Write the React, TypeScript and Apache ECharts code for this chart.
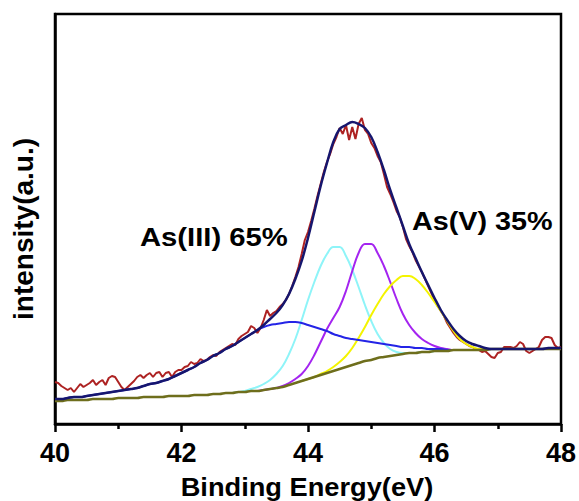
import React, { useEffect, useRef } from "react";
import * as echarts from "echarts";

// ---- Data (intensity in arbitrary units) ----
// Raw spectrum, sampled every 0.05 eV from 40.00 to 48.00 eV
const RAW_START = 40;
const RAW_STEP = 0.05;
const rawCounts = [
  42, 41, 38, 36, 34, 36, 32, 36, 40, 37, 39, 41, 44, 39, 42, 44, 39, 46, 48, 47,
  42, 37, 34, 37, 40, 43, 47, 49, 46, 49, 51, 47, 51, 52, 47, 51, 52, 47, 52, 54,
  54, 57, 58, 62, 60, 61, 65, 63, 64, 67, 69, 68, 72, 74, 76, 78, 80, 79, 85, 88,
  90, 92, 98, 96, 91, 96, 104, 114, 108, 111, 113, 117, 120, 124, 130, 138,
  147, 157, 170, 184, 192, 203, 215, 228, 240, 252, 262, 270, 280, 287, 296, 290,
  299, 284, 297, 285, 300, 306, 294, 290, 281, 276, 268, 262, 250, 237, 230, 222,
  213, 207, 197, 185, 178, 172, 164, 158, 152, 145, 138, 131, 124, 118, 113, 108,
  101, 96, 91, 87, 84, 82, 80, 78, 77, 75,
  74, 72, 73, 70, 67, 66, 71, 72, 77, 77, 77, 76, 78, 82, 80, 73, 71, 73, 75, 77,
  84, 87, 87, 86, 79, 76, 77,
];

// Fitted curves, sampled every 0.1 eV
const FIT_START = 40;
const FIT_STEP = 0.1;
const envelope = [
  25, 25, 26, 27, 27, 28, 29, 30, 31, 32,
  33, 34, 35, 36, 38, 40, 41, 43, 45, 48,
  51, 54, 57, 61, 64, 68, 71, 75, 78, 82,
  86, 90, 94, 99, 105, 111, 119, 130, 145, 163,
  186, 212, 238, 261, 282, 295, 299, 302, 300, 296,
  287, 272, 254, 234, 216, 198, 180, 166, 152, 139,
  126, 114, 104, 95, 88, 83, 80, 78, 76, 75,
  75, 75, 75, 75, 75, 75, 75, 75, 76, 76, 76,
];
const background = [
  23, 23, 24, 24, 24, 24, 25, 25, 25, 25,
  26, 26, 26, 26, 27, 27, 27, 27, 28, 28,
  28, 28, 29, 29, 29, 30, 30, 31, 31, 32,
  32, 33, 33, 34, 35, 36, 37, 39, 41, 43,
  45, 47, 49, 51, 53, 55, 57, 59, 61, 63,
  64, 66, 67, 68, 69, 70, 71, 71, 72, 72,
  73, 73, 73, 74, 74, 74, 74, 74, 74, 75,
  75, 75, 75, 75, 75, 75, 75, 75, 75, 75, 75,
];
// As(III) broad component (blue), 40.0 - 48.0 eV
const blueComp = [
  25, 25, 26, 27, 27, 28, 29, 30, 31, 32,
  33, 34, 35, 36, 38, 40, 41, 43, 45, 48,
  51, 54, 57, 61, 64, 68, 71, 75, 78, 82,
  86, 90, 94, 97, 99, 100, 101, 102, 102, 101,
  99, 97, 95, 93, 90, 88, 86, 85, 84, 83,
  82, 81, 80, 79, 78, 77, 77, 76, 76, 75,
  75, 75, 74, 74, 74, 74, 74, 74, 74, 75,
  75, 75, 75, 75, 75, 75, 75, 75, 75, 75, 75,
];
// As(III) component (cyan), from 42.8 eV
const CYAN_START = 42.8;
const cyanComp = [
  31, 32, 33, 35, 37, 40, 44, 50, 58, 70, 85, 104,
  124, 142, 158, 170, 177, 177, 168, 154, 137, 119,
  103, 90, 81, 75, 72, 71, 71, 71, 72, 72, 73,
];
// As(V) component (violet), from 43.2 eV
const VIOLET_START = 43.2;
const violetComp = [
  33, 34, 35, 36, 38, 41, 45, 50,
  58, 69, 82, 95, 106, 117, 133, 153, 171, 180,
  180, 171, 158, 142, 125, 110, 99, 91, 85, 81,
  78, 76, 75, 74, 74, 74, 74,
];
// As(V) component (yellow), from 43.9 eV
const YELLOW_START = 43.9;
const yellowComp = [
  43, 45, 47, 50, 53, 57, 62, 68, 76, 86, 97,
  109, 120, 130, 138, 144, 148, 148, 145, 139, 131,
  122, 113, 103, 93, 85, 80, 77, 75, 75, 75, 75,
];

const xTicks = [40, 42, 44, 46, 48];
const labelIII = "As(III) 65%";
const labelV = "As(V) 35%";
const yTitle = "intensity(a.u.)";
const xTitle = "Binding Energy(eV)";

const toPairs = (start: number, step: number, ys: number[]) =>
  ys.map((y, i) => [+(start + i * step).toFixed(2), y]);

const FONT = "'Liberation Sans', Arial, Helvetica, sans-serif";

export default function App() {
  const ref = useRef<HTMLDivElement>(null);
  useEffect(() => {
    if (!ref.current) return;
    const chart = echarts.init(ref.current, null, { renderer: "svg" });
    const lineSeries = (
      name: string,
      data: number[][],
      color: string,
      width: number,
      z: number,
      smooth: boolean | number
    ) => ({
      name,
      type: "line",
      data,
      showSymbol: false,
      symbol: "none",
      smooth,
      z,
      lineStyle: { color, width },
    });
    chart.setOption({
      animation: false,
      backgroundColor: "#ffffff",
      grid: {
        left: 55,
        right: 18,
        top: 14,
        bottom: 77,
        show: true,
        borderColor: "#000",
        borderWidth: 2.5,
        backgroundColor: "transparent",
        outerBoundsMode: "none",
        containLabel: false,
      },
      xAxis: {
        type: "value",
        min: xTicks[0],
        max: xTicks[xTicks.length - 1],
        interval: 2,
        axisLine: { show: true, lineStyle: { color: "#000", width: 2.5 } },
        axisTick: {
          show: true,
          inside: false,
          length: 8,
          lineStyle: { color: "#000", width: 2.5 },
        },
        minorTick: {
          show: true,
          splitNumber: 2,
          length: 5,
          lineStyle: { color: "#000", width: 2.5 },
        },
        axisLabel: {
          fontSize: 27,
          fontWeight: "bold",
          color: "#000",
          fontFamily: FONT,
          margin: 15,
        },
        splitLine: { show: false },
      },
      yAxis: {
        type: "value",
        min: 0,
        max: 410,
        axisLine: { show: true, lineStyle: { color: "#000", width: 2.5 } },
        axisTick: { show: false },
        axisLabel: { show: false },
        splitLine: { show: false },
      },
      graphic: [
        {
          type: "text",
          x: 307,
          y: 487,
          scaleX: 1.09,
          z: 100,
          style: {
            text: xTitle,
            fill: "#000",
            fontSize: 25,
            fontWeight: "bold",
            fontFamily: FONT,
            align: "center",
            verticalAlign: "middle",
          },
        },
        {
          type: "text",
          x: 23,
          y: 229,
          rotation: Math.PI / 2,
          z: 100,
          style: {
            text: yTitle,
            fill: "#000",
            fontSize: 28,
            fontWeight: "bold",
            fontFamily: FONT,
            align: "center",
            verticalAlign: "middle",
          },
        },
        {
          type: "text",
          x: 140,
          y: 237,
          scaleX: 1.17,
          z: 100,
          style: {
            text: labelIII,
            fill: "#000",
            fontSize: 25,
            fontWeight: "bold",
            fontFamily: FONT,
            align: "left",
            verticalAlign: "middle",
          },
        },
        {
          type: "text",
          x: 412,
          y: 222,
          scaleX: 1.15,
          z: 100,
          style: {
            text: labelV,
            fill: "#000",
            fontSize: 25,
            fontWeight: "bold",
            fontFamily: FONT,
            align: "left",
            verticalAlign: "middle",
          },
        },
      ],
      series: [
        lineSeries("raw", toPairs(RAW_START, RAW_STEP, rawCounts), "#ad2222", 2, 1, false),
        lineSeries("As(III) a", toPairs(CYAN_START, FIT_STEP, cyanComp), "#8ef4f8", 2, 2, 0.4),
        lineSeries("As(V) a", toPairs(VIOLET_START, FIT_STEP, violetComp), "#a424f0", 2, 3, 0.4),
        lineSeries("As(V) b", toPairs(YELLOW_START, FIT_STEP, yellowComp), "#f4f400", 2, 4, 0.4),
        lineSeries("As(III) b", toPairs(FIT_START, FIT_STEP, blueComp), "#2424e6", 2, 5, 0.4),
        lineSeries("background", toPairs(FIT_START, FIT_STEP, background), "#6e6e1c", 2.5, 6, 0.4),
        lineSeries("envelope", toPairs(FIT_START, FIT_STEP, envelope), "#16166e", 2.5, 7, 0.4),
      ],
    });
    return () => chart.dispose();
  }, []);
  return (
    <div
      ref={ref}
      style={{ position: "fixed", left: 0, top: 0, width: 579, height: 501 }}
    />
  );
}
